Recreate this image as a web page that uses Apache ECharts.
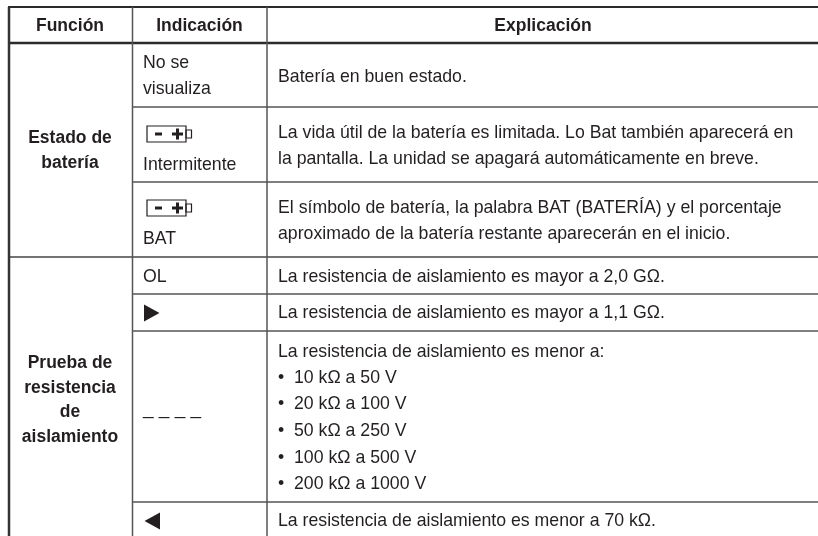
<!DOCTYPE html>
<html>
<head>
<meta charset="utf-8">
<title>Tabla</title>
<script src="https://cdn.jsdelivr.net/npm/echarts@6/dist/echarts.min.js"></script>
<style>
html,body{margin:0;padding:0;background:#fff;}
#chart{width:818px;height:536px;}
</style>
</head>
<body>
<div id="chart"></div>
<script>
//textos de la tabla
var headers = ["Función","Indicación","Explicación"];
var functions = ["Estado de\nbatería","Prueba de\nresistencia\nde\naislamiento"];
var indications = ["No se\nvisualiza","Intermitente","BAT","OL","_ _ _ _"];
var explanations = [
	"Batería en buen estado.",
	"La vida útil de la batería es limitada. Lo Bat también aparecerá en\nla pantalla. La unidad se apagará automáticamente en breve.",
	"El símbolo de batería, la palabra BAT (BATERÍA) y el porcentaje\naproximado de la batería restante aparecerán en el inicio.",
	"La resistencia de aislamiento es mayor a 2,0 GΩ.",
	"La resistencia de aislamiento es mayor a 1,1 GΩ.",
	"La resistencia de aislamiento es menor a:",
	"La resistencia de aislamiento es menor a 70 kΩ."
];
var limits = ["•  10 kΩ a 50 V","•  20 kΩ a 100 V","•  50 kΩ a 250 V","•  100 kΩ a 500 V","•  200 kΩ a 1000 V"];

//posiciones de la cuadricula
var colX = {left:9,fn:132.5,ind:267,right:818};
var topY = 7,headBottom = 43,sectionY = 257,bottomY = 536;
var rowYs = [107,182,294,331,502];
var textColor = "#231f20";
var textFont = "'Liberation Sans'";
var bodySize = 17.7,boldSize = 17.5;

function makeRules(){
	var rules = [];
	rules.push({x1:colX.left-1,y1:topY,x2:colX.right,y2:topY,w:2,c:"#2b2b2b"});
	rules.push({x1:colX.left-1,y1:headBottom,x2:colX.right,y2:headBottom,w:2.5,c:"#2b2b2b"});
	rules.push({x1:colX.left,y1:sectionY,x2:colX.right,y2:sectionY,w:1.5,c:"#444"});
	rowYs.forEach(function(y){
		rules.push({x1:colX.fn,y1:y,x2:colX.right,y2:y,w:1.5,c:"#555"});
	});
	rules.push({x1:colX.left,y1:topY,x2:colX.left,y2:bottomY,w:2.5,c:"#333"});
	rules.push({x1:colX.fn,y1:topY,x2:colX.fn,y2:bottomY,w:1.5,c:"#555"});
	rules.push({x1:colX.ind,y1:topY,x2:colX.ind,y2:bottomY,w:1.5,c:"#555"});
	return rules;
}

function makeLabels(){
	var labels = [];
	function add(text,x,y,align,size,weight,lh){
		labels.push({text:text,x:x,y:y,align:align,size:size,weight:weight,lh:lh});
	}
	add(headers[0],70,26,"center",boldSize,"bold",18);
	add(headers[1],199.5,26,"center",boldSize,"bold",18);
	add(headers[2],543,26,"center",boldSize,"bold",18);
	add(functions[0],70,151,"center",boldSize,"bold",25);
	add(functions[1],70,400,"center",boldSize,"bold",24.5);
	[77,146,221,277,313.5,352,521].forEach(function(y,i){
		add(explanations[i],278,y,"left",bodySize,"normal",26.5);
	});
	[378,404,431,458,484].forEach(function(y,i){
		add(limits[i],278,y,"left",bodySize,"normal",20);
	});
	add(indications[0],143,76,"left",bodySize,"normal",26.5);
	add(indications[1],143,165,"left",bodySize,"normal",20);
	add(indications[2],143,239,"left",bodySize,"normal",20);
	add(indications[3],143,277,"left",bodySize,"normal",20);
	add(indications[4],143,409,"left",19,"normal",24);
	return labels;
}

//simbolos: bateria y flechas
var batteryYs = [134,208];
var arrows = [{y:313,dir:1},{y:521,dir:-1}];

var rules = makeRules();
var labels = makeLabels();

function renderRule(params,api){
	var r = rules[params.dataIndex];
	var a = api.coord([r.x1,r.y1]),b = api.coord([r.x2,r.y2]);
	return {type:"line",shape:{x1:a[0],y1:a[1],x2:b[0],y2:b[1]},style:{stroke:r.c,lineWidth:r.w}};
}
function renderLabel(params,api){
	var l = labels[params.dataIndex];
	var p = api.coord([l.x,l.y]);
	return {type:"text",x:p[0],y:p[1],style:{
		text:l.text,fill:textColor,font:l.weight+" "+l.size+"px "+textFont,
		align:l.align,verticalAlign:"middle",lineHeight:l.lh
	}};
}
function renderBattery(params,api){
	var y = batteryYs[params.dataIndex];
	var p = api.coord([147,y-8]);
	var s = {stroke:"#231f20",lineWidth:1.2,fill:"none"};
	var d = {fill:"#231f20"};
	return {type:"group",x:p[0],y:p[1],children:[
		{type:"rect",shape:{x:0,y:0,width:39,height:16},style:s},
		{type:"rect",shape:{x:39,y:4,width:5.5,height:8},style:s},
		{type:"rect",shape:{x:8,y:6.5,width:7,height:3},style:d},
		{type:"rect",shape:{x:25,y:6.5,width:11,height:3},style:d},
		{type:"rect",shape:{x:29,y:2.5,width:3,height:11},style:d}
	]};
}
function renderArrow(params,api){
	var a = arrows[params.dataIndex];
	var p = api.coord([a.dir>0?144:160,a.y]);
	return {type:"polygon",x:p[0],y:p[1],shape:{points:[[0,-8.5],[a.dir*15.5,0],[0,8.5]]},style:{fill:"#231f20"}};
}

function points(list){
	return list.map(function(item,i){return [i,i];});
}

var myChart = echarts.init(document.getElementById("chart"));
var option = {
	animation:false,
	backgroundColor:"#fff",
	grid:{left:0,right:0,top:0,bottom:0},
	xAxis:{type:"value",min:0,max:818,show:false},
	yAxis:{type:"value",min:0,max:536,inverse:true,show:false},
	series:[
		{type:"custom",renderItem:renderRule,data:points(rules),clip:false,silent:true},
		{type:"custom",renderItem:renderLabel,data:points(labels),clip:false,silent:true},
		{type:"custom",renderItem:renderBattery,data:points(batteryYs),clip:false,silent:true},
		{type:"custom",renderItem:renderArrow,data:points(arrows),clip:false,silent:true}
	]
};
myChart.setOption(option);
</script>
</body>
</html>
